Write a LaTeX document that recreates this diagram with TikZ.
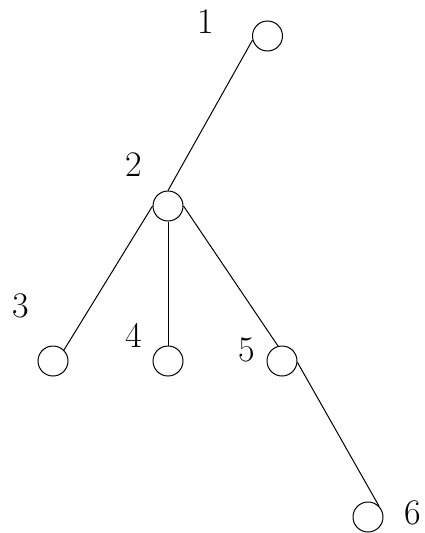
\documentclass[tikz,border=0pt]{standalone}
\begin{document}
\begin{tikzpicture}[x=1pt,y=-1pt,
  vert/.style={circle,draw,line width=1pt,minimum size=30pt,inner sep=0pt},
  lbl/.style={font=\fontsize{36}{40}\selectfont,inner sep=0pt},
  edge/.style={line width=1pt}]
\useasboundingbox (0,0) rectangle (425,533);
\node[vert] (n1) at (267.5,36) {};
\node[vert] (n2) at (168,206) {};
\node[vert] (n3) at (53,361) {};
\node[vert] (n4) at (168,361) {};
\node[vert] (n5) at (282,361) {};
\node[vert] (n6) at (368,517) {};
\node[lbl] (l1) at (206,22) {1};
\node[lbl] (l2) at (134,165) {2};
\node[lbl] (l3) at (21,306) {3};
\node[lbl] (l4) at (134,335) {4};
\node[lbl] (l5) at (247,350) {5};
\node[lbl,anchor=east] (l6) at (421,513) {6};
\draw[edge] (n1.195) -- (n2.90);
\draw[edge] (n2.180) -- (n3.45);
\draw[edge] (n2.south) -- (n4.north);
\draw[edge] (n2.0) -- (n5.105);
\draw[edge] (n5.355) -- (n6.45);
\end{tikzpicture}
\end{document}
